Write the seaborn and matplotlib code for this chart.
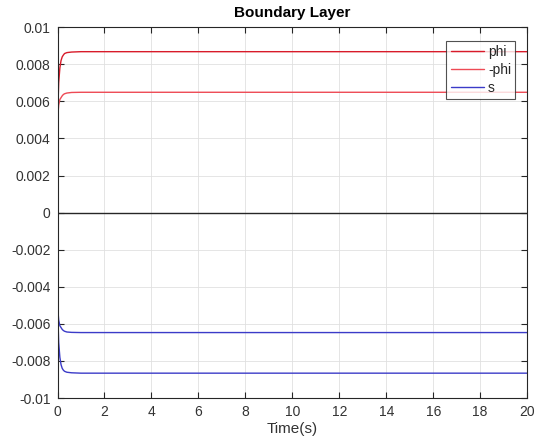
import matplotlib
matplotlib.use("Agg")
import matplotlib.pyplot as plt
import seaborn as sns
import numpy as np
import pandas as pd

# Data
t = [0.0, 0.05, 0.1, 0.15, 0.2, 0.25, 0.3, 0.4, 0.6, 1.0, 20.0]
phi = [0.0050, 0.0070, 0.0078, 0.0082, 0.0084, 0.0085, 0.00858, 0.00863, 0.00866, 0.00868, 0.00868]
neg_phi = [0.0050, 0.0058, 0.0061, 0.0062, 0.0063, 0.00637, 0.00641, 0.00645, 0.00648, 0.00649, 0.00649]
s_upper = [-0.0050, -0.0058, -0.0061, -0.0062, -0.0063, -0.00636, -0.0064, -0.00644, -0.00646, -0.00647, -0.00647]
s_lower = [-0.0050, -0.0070, -0.0078, -0.0082, -0.0084, -0.0085, -0.00856, -0.00861, -0.00864, -0.00866, -0.00866]
zero = [0.0] * len(t)

xticks = [0, 2, 4, 6, 8, 10, 12, 14, 16, 18, 20]
yticks = [-0.01, -0.008, -0.006, -0.004, -0.002, 0, 0.002, 0.004, 0.006, 0.008, 0.01]
ytick_labels = ["-0.01", "-0.008", "-0.006", "-0.004", "-0.002", "0",
                "0.002", "0.004", "0.006", "0.008", "0.01"]

sns.set_style("white")
plt.rcParams['font.family'] = ['Liberation Sans', 'DejaVu Sans']

fig = plt.figure(figsize=(5.39, 4.46), dpi=100)
ax = fig.add_axes([0.1067, 0.1076, 0.8713, 0.8314])

sns.lineplot(x=t, y=phi, ax=ax, color="#d81b2a", lw=1.0, label="phi")
sns.lineplot(x=t, y=neg_phi, ax=ax, color="#ee4a55", lw=1.0, label="-phi")
sns.lineplot(x=t, y=s_upper, ax=ax, color="#3b3bc8", lw=1.0, label="s")
sns.lineplot(x=t, y=s_lower, ax=ax, color="#3b3bc8", lw=1.0, label="_nolegend_")
sns.lineplot(x=t, y=zero, ax=ax, color="#262626", lw=1.0, label="_nolegend_")

ax.set_xlim(0, 20)
ax.set_ylim(-0.01, 0.01)
ax.set_xticks(xticks)
ax.set_xticklabels([str(v) for v in xticks])
ax.set_yticks(yticks)
ax.set_yticklabels(ytick_labels)

ax.grid(True, color="#e0e0e0", lw=0.6)
for sp in ax.spines.values():
    sp.set_color("#262626")
    sp.set_linewidth(0.8)
    sp.set_visible(True)
ax.tick_params(direction="in", length=4, width=0.8, colors="#262626",
               labelcolor="#333333", labelsize=10, top=True, right=True,
               bottom=True, left=True, pad=5)

ax.set_xlabel("Time(s)", fontsize=11, color="#333333", labelpad=2)
ax.set_ylabel("")
ax.set_title("Boundary Layer", fontsize=11, fontweight="bold", color="black", pad=7)

leg = ax.legend(loc="upper right", bbox_to_anchor=(0.975, 0.964), fontsize=10,
                frameon=True, fancybox=False, edgecolor="#262626",
                handlelength=2.4, handletextpad=0.3, borderpad=0.3,
                labelspacing=0.3, borderaxespad=0.0)
leg.get_frame().set_linewidth(0.8)

fig.savefig("out.png", dpi=100, facecolor="white")
